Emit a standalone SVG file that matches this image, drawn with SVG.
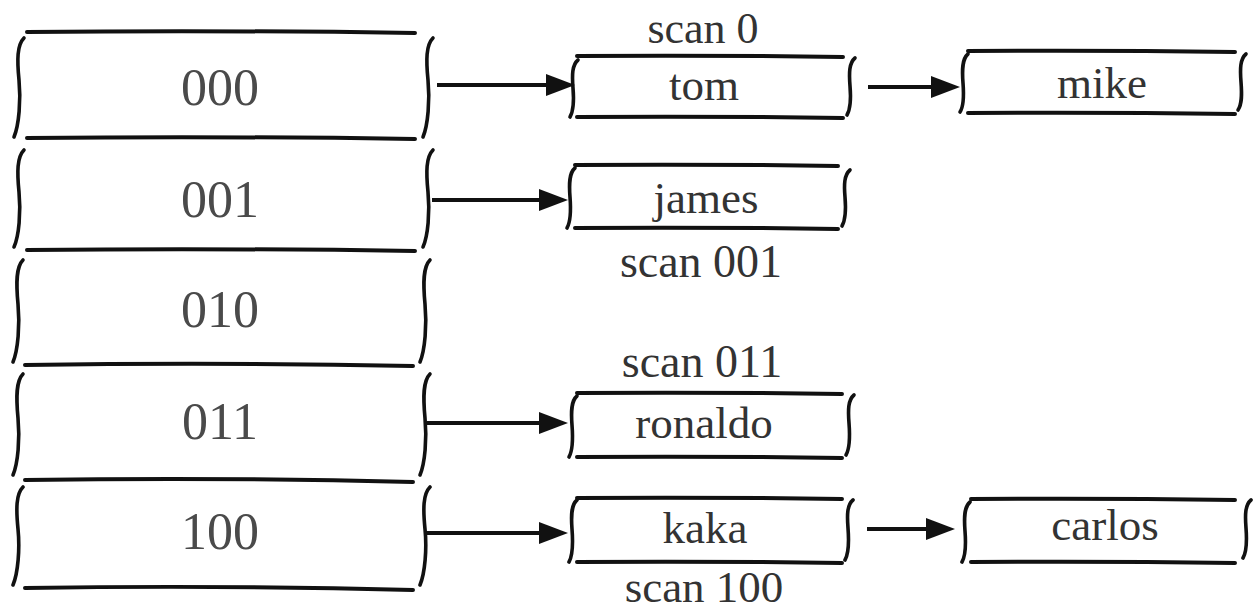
<svg xmlns="http://www.w3.org/2000/svg" width="1255" height="613" viewBox="0 0 1255 613">
<style>
  .ln { fill: none; stroke: #111; stroke-width: 4; stroke-linecap: round; stroke-linejoin: round; }
  .br { fill: none; stroke: #111; stroke-width: 3.6; stroke-linecap: round; }
  .ar { fill: none; stroke: #111; stroke-width: 4.2; stroke-linecap: butt; }
  .dig { font-family: "Liberation Serif", "Times New Roman", serif; font-size: 52px; fill: #4a4a4a; text-anchor: middle; }
  .nm { font-family: "Liberation Serif", "Times New Roman", serif; font-size: 45px; fill: #333; text-anchor: middle; }
  .sc { font-family: "Liberation Serif", "Times New Roman", serif; font-size: 46px; fill: #333; text-anchor: middle; }
</style>
<defs>
  <marker id="ah" markerUnits="userSpaceOnUse" markerWidth="32" markerHeight="26" viewBox="0 0 32 26" refX="8" refY="13" orient="auto">
    <path d="M0,2 L29,13 L0,24 Z" fill="#111"/>
  </marker>
</defs>
<rect width="1255" height="613" fill="#fff"/>

<g id="bucket-000">
  <path class="ln" d="M27 32 Q220 30 415 33"/>
  <path class="ln" d="M27 138 Q220 136 415 139"/>
  <path class="br" d="M24 38 C17 45 17 60 19 80 C21 100 19 125 14 137"/>
  <path class="br" d="M433 38 C426 45 426 60 428 80 C430 100 428 125 423 137"/>
  <text class="dig" x="220" y="105">000</text>
</g>
<g id="bucket-001">
  <path class="ln" d="M27 250 Q220 248 415 251"/>
  <path class="br" d="M24 150 C17 157 17 172 19 192 C21 212 19 236 14 247"/>
  <path class="br" d="M433 150 C426 157 426 172 428 192 C430 212 428 236 423 247"/>
  <text class="dig" x="220" y="217">001</text>
</g>
<g id="bucket-010">
  <path class="ln" d="M25 365 Q220 362 413 366"/>
  <path class="br" d="M23 260 C16 267 16 283 18 304 C20 325 18 350 13 362"/>
  <path class="br" d="M430 260 C423 267 423 283 425 304 C427 325 425 350 420 362"/>
  <text class="dig" x="220" y="327">010</text>
</g>
<g id="bucket-011">
  <path class="ln" d="M25 480 Q220 477 413 482"/>
  <path class="br" d="M23 374 C16 381 16 397 18 418 C20 439 18 463 13 475"/>
  <path class="br" d="M430 374 C423 381 423 397 425 418 C427 439 425 463 420 475"/>
  <text class="dig" x="220" y="439">011</text>
</g>
<g id="bucket-100">
  <path class="ln" d="M25 588 Q220 585 413 590"/>
  <path class="br" d="M23 487 C16 494 16 509 18 529 C20 549 18 573 13 585"/>
  <path class="br" d="M430 487 C423 494 423 509 425 529 C427 549 425 573 420 585"/>
  <text class="dig" x="220" y="549">100</text>
</g>

<g id="node-tom">
  <path class="ln" d="M577 56 Q710 55 843 57"/>
  <path class="ln" d="M577 117 Q710 116 843 118"/>
  <path class="br" d="M578 60 C572 65 572 75 573 88 C574 100 574 110 570 117"/>
  <path class="br" d="M855 58 C849 63 849 73 850 86 C851 98 851 108 847 115"/>
  <text class="nm" x="704" y="100">tom</text>
</g>
<text id="label-scan0" class="sc" x="703" y="43" style="font-size:44px">scan 0</text>

<g id="node-james">
  <path class="ln" d="M575 165 Q706 164 838 166"/>
  <path class="ln" d="M575 228 Q706 227 838 229"/>
  <path class="br" d="M575 168 C569 173 569 184 570 197 C571 210 571 221 567 228"/>
  <path class="br" d="M850 170 C844 175 844 185 845 197 C846 209 846 219 842 226"/>
  <text class="nm" x="706" y="213">james</text>
</g>
<text id="label-scan001" class="sc" x="701" y="277">scan 001</text>

<g id="node-ronaldo">
  <path class="ln" d="M577 393 Q710 392 842 394"/>
  <path class="ln" d="M577 457 Q710 456 842 458"/>
  <path class="br" d="M577 396 C571 401 571 412 572 425 C573 438 573 450 569 457"/>
  <path class="br" d="M854 395 C848 400 848 410 849 423 C850 436 850 448 846 455"/>
  <text class="nm" x="704" y="438">ronaldo</text>
</g>
<text id="label-scan011" class="sc" x="702" y="377">scan 011</text>

<g id="node-kaka">
  <path class="ln" d="M577 498 Q710 497 842 499"/>
  <path class="ln" d="M577 562 Q710 561 842 563"/>
  <path class="br" d="M577 500 C571 505 571 516 572 529 C573 542 573 555 569 562"/>
  <path class="br" d="M853 500 C847 505 847 515 848 528 C849 541 849 553 845 560"/>
  <text class="nm" x="705" y="543">kaka</text>
</g>
<text id="label-scan100" class="sc" x="704" y="602" style="font-size:45px">scan 100</text>

<g id="node-mike">
  <path class="ln" d="M968 51 Q1100 50 1235 52"/>
  <path class="ln" d="M968 113 Q1100 112 1235 114"/>
  <path class="br" d="M968 54 C962 59 962 70 963 83 C964 96 964 106 960 112"/>
  <path class="br" d="M1246 54 C1240 59 1240 69 1241 82 C1242 95 1242 104 1238 110"/>
  <text class="nm" x="1102" y="98">mike</text>
</g>

<g id="node-carlos">
  <path class="ln" d="M971 499 Q1103 498 1235 500"/>
  <path class="ln" d="M971 562 Q1103 561 1235 563"/>
  <path class="br" d="M970 502 C964 507 964 518 965 531 C966 544 966 555 962 562"/>
  <path class="br" d="M1251 500 C1245 505 1245 515 1246 528 C1247 541 1247 551 1243 558"/>
  <text class="nm" x="1105" y="540">carlos</text>
</g>

<g id="connectors">
  <line class="ar" x1="437" y1="85" x2="554" y2="85" marker-end="url(#ah)"/>
  <line class="ar" x1="432" y1="200" x2="547" y2="200" marker-end="url(#ah)"/>
  <line class="ar" x1="427" y1="423" x2="547" y2="423" marker-end="url(#ah)"/>
  <line class="ar" x1="427" y1="533" x2="547" y2="533" marker-end="url(#ah)"/>
  <line class="ar" x1="868" y1="87" x2="939" y2="87" marker-end="url(#ah)"/>
  <line class="ar" x1="867" y1="529" x2="934" y2="529" marker-end="url(#ah)"/>
</g>
</svg>
